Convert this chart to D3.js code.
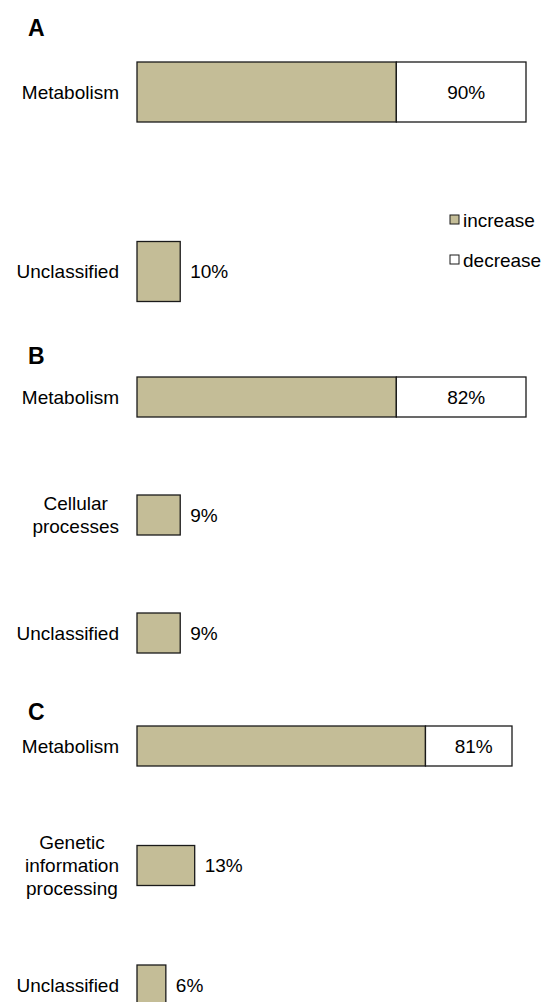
<!DOCTYPE html>
<html>
<head>
<meta charset="utf-8">
<script src="https://cdn.jsdelivr.net/npm/d3@7"></script>
<style>
  body { margin: 0; background: #fff; }
  svg { display: block; font-family: "Liberation Sans", Arial, sans-serif; }
</style>
</head>
<body>
<script>
// panel data: protein counts per functional category (increase / decrease)
const panelsA = ["Metabolism", "Unclassified"];
const increaseA = [12, 2];
const decreaseA = [6, 0];

const panelsB = ["Metabolism", "Cellular\nprocesses", "Unclassified"];
const increaseB = [12, 2, 2];
const decreaseB = [6, 0, 0];

const panelsC = ["Metabolism", "Genetic\ninformation\nprocessing", "Unclassified"];
const increaseC = [10, 2, 1];
const decreaseC = [3, 0, 0];

const legendLabels = ["increase", "decrease"];

const fillIncrease = '#C4BD97';
const fillDecrease = '#ffffff';
const strokeCol = '#1a1a1a';
const width = 552, height = 1002;
const left = 137;

const svg = d3.select("body").append("svg")
    .attr("width", width)
    .attr("height", height);

function drawPanel(letter, letterY, cats, inc, dec, yRange, barH, xRight, xMax) {
    const g = svg.append('g');
    const rows = cats.map((c, i) => ({ cat: c, inc: inc[i], dec: dec[i], total: inc[i] + dec[i] }));
    const sum = d3.sum(rows, d => d.total);

    const x = d3.scaleLinear().domain([0, xMax]).range([left, xRight]);
    const y = d3.scalePoint().domain(cats).range(yRange);

    g.append('text')
        .attr('x', 28).attr('y', letterY)
        .attr('font-size', 23).attr('font-weight', 'bold')
        .text(letter);

    // increase part
    g.selectAll('rect.inc').data(rows).join('rect')
        .attr('class', 'inc')
        .attr('x', x(0))
        .attr('y', d => y(d.cat) - barH / 2)
        .attr('width', d => x(d.inc) - x(0))
        .attr('height', barH)
        .attr('fill', fillIncrease)
        .attr('stroke', strokeCol)
        .attr('stroke-width', 1.3);

    // decrease part
    g.selectAll('rect.dec').data(rows.filter(d => d.dec > 0)).join('rect')
        .attr('class', 'dec')
        .attr('x', d => x(d.inc))
        .attr('y', d => y(d.cat) - barH / 2)
        .attr('width', d => x(d.total) - x(d.inc))
        .attr('height', barH)
        .attr('fill', fillDecrease)
        .attr('stroke', strokeCol)
        .attr('stroke-width', 1.3);

    // percentage labels
    g.selectAll('text.val').data(rows).join('text')
        .attr('class', 'val')
        .attr('font-size', 19)
        .attr('dy', '0.35em')
        .attr('y', d => y(d.cat))
        .attr('x', d => d.dec > 0 ? (x(d.inc) + x(d.total)) / 2 + 5 : x(d.total) + 10)
        .attr('text-anchor', d => d.dec > 0 ? 'middle' : 'start')
        .text(d => Math.round(d.total / sum * 100) + '%');

    // category labels (multi-line, centred block right-aligned to the axis)
    rows.forEach(d => {
        const lines = d.cat.split('\n');
        const t = g.append('text')
            .attr('font-size', 19)
            .attr('text-anchor', 'middle');
        const lh = 23;
        const y0 = y(d.cat) - (lines.length - 1) * lh / 2;
        const spans = lines.map((l, i) => t.append('tspan')
            .attr('y', y0 + i * lh)
            .attr('dy', '0.35em')
            .text(l));
        const maxW = d3.max(spans, s => s.node().getComputedTextLength());
        spans.forEach(s => s.attr('x', 119 - maxW / 2));
    });
}

drawPanel('A', 36, panelsA, increaseA, decreaseA, [92, 271.5], 60, 526, 18);
drawPanel('B', 364, panelsB, increaseB, decreaseB, [397, 633], 40, 526, 18);
drawPanel('C', 720, panelsC, increaseC, decreaseC, [746, 985], 40, 512, 13);

// legend
const legend = svg.append('g');
const ly = d3.scalePoint().domain(legendLabels).range([220, 260]);
legend.selectAll('rect').data(legendLabels).join('rect')
    .attr('x', 450)
    .attr('y', d => ly(d) - 5)
    .attr('width', 9).attr('height', 9)
    .attr('fill', (d, i) => i === 0 ? fillIncrease : fillDecrease)
    .attr('stroke', strokeCol)
    .attr('stroke-width', 1);
legend.selectAll('text').data(legendLabels).join('text')
    .attr('x', 463)
    .attr('y', d => ly(d))
    .attr('dy', '0.35em')
    .attr('font-size', 19)
    .text(d => d);
</script>
</body>
</html>
